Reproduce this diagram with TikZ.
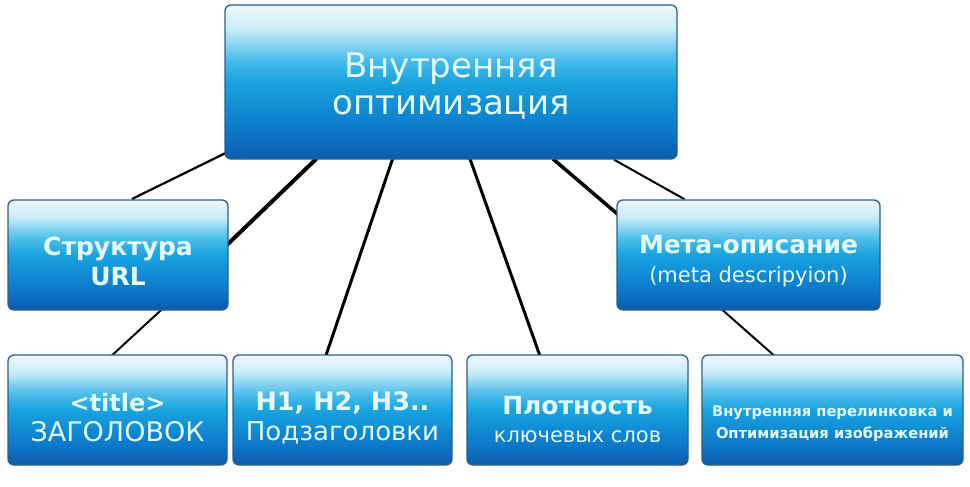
\documentclass[tikz,border=0pt]{standalone}
\usepackage{fontspec}
\setmainfont{DejaVu Sans}
\usetikzlibrary{backgrounds}
\definecolor{btop}{HTML}{EEF8FC}
\definecolor{blight}{HTML}{CDEDF9}
\definecolor{bcyan}{HTML}{4CBDEA}
\definecolor{bmid}{HTML}{18A3DF}
\definecolor{bblue}{HTML}{0D7ACB}
\definecolor{bdark}{HTML}{0A5CAD}
\definecolor{bborder}{HTML}{2F5F85}
\definecolor{btext}{HTML}{E4FBFF}
\pgfdeclareverticalshading{boxshade}{100bp}{color(0bp)=(bdark); color(25bp)=(bdark); color(35bp)=(bblue); color(50bp)=(bmid); color(57.5bp)=(bcyan); color(67.5bp)=(blight); color(75bp)=(btop); color(100bp)=(btop)}
\tikzset{
  box/.style={draw=bborder, line width=1.3pt, rounded corners=6pt, shading=boxshade,
    inner sep=0pt, minimum height=110pt},
  boxtext/.style={text=btext, align=center, inner sep=0pt},
  link/.style={draw=black, shorten <=-6pt, shorten >=-6pt},
}
\newcommand{\fs}[2]{\fontsize{#1}{#2}\selectfont}
\begin{document}
\begin{tikzpicture}[x=1pt,y=-1pt]
\useasboundingbox (0,0) rectangle (970,487);
\node[box, minimum width=452pt, minimum height=154pt] (top) at (451,82) {};
\node[box, minimum width=220pt] (struct) at (118,255) {};
\node[box, minimum width=263pt] (meta) at (748.5,255) {};
\node[box, minimum width=219pt] (b1) at (117.5,410) {};
\node[box, minimum width=219pt] (b2) at (342.5,410) {};
\node[box, minimum width=221pt] (b3) at (577.5,410) {};
\node[box, minimum width=261pt] (b4) at (832.5,410) {};
\node[boxtext, font=\fs{34}{37}] (toptxt) at ([yshift=-4pt]top.center) {Внутренняя\\оптимизация};
\node[boxtext, font=\fs{25}{30}\bfseries] (structtxt) at ([yshift=-6pt]struct.center) {Структура\\URL};
\node[boxtext, font=\fs{21}{29}] (metatxt) at ([yshift=-6pt]meta.center) {{\fs{25}{29}\bfseries Мета-описание}\\{\fs{21}{29}(meta descripyion)}};
\node[boxtext, font=\fs{24}{30}] (b1txt) at ([yshift=-8pt]b1.center) {{\bfseries <title>}\\{\fs{27}{30}ЗАГОЛОВОК}};
\node[boxtext, font=\fs{25.5}{30}] (b2txt) at ([yshift=-8pt]b2.center) {{\bfseries H1, H2, H3..}\\{\fs{26}{30}Подзаголовки}};
\node[boxtext, font=\fs{21}{28}] (b3txt) at ([yshift=-10pt]b3.center) {{\fs{25}{28}\bfseries Плотность}\\ключевых слов};
\node[boxtext, font=\fs{14.7}{22}\bfseries] (b4txt) at ([yshift=-14pt]b4.center) {Внутренняя перелинковка и\\Оптимизация изображений};
\begin{scope}[on background layer]
\draw[link, line width=2.2pt] ([yshift=6pt]top.south west) -- ([xshift=130pt,yshift=3pt]struct.north west);
\draw[link, line width=4pt] ([xshift=88pt,yshift=-3pt]top.south west) -- ([xshift=2pt,yshift=-42pt]struct.north east);
\draw[link, line width=3pt] ([xshift=167pt,yshift=-3pt]top.south west) -- ([xshift=95pt,yshift=3pt]b2.north west);
\draw[link, line width=3pt] ([xshift=247pt,yshift=-3pt]top.south west) -- ([xshift=72pt,yshift=3pt]b3.north west);
\draw[link, line width=3.5pt] ([xshift=333pt,yshift=-3pt]top.south west) -- ([xshift=-2pt,yshift=-12pt]meta.north west);
\draw[link, line width=2pt] ([xshift=395pt,yshift=-3pt]top.south west) -- ([xshift=63pt,yshift=3pt]meta.north west);
\draw[link, line width=2pt] ([xshift=152pt,yshift=-1pt]struct.south west) -- ([xshift=109pt,yshift=3pt]b1.north west);
\draw[link, line width=2pt] ([xshift=108pt,yshift=-1pt]meta.south west) -- ([xshift=68pt,yshift=3pt]b4.north west);
\end{scope}
\end{tikzpicture}
\end{document}
